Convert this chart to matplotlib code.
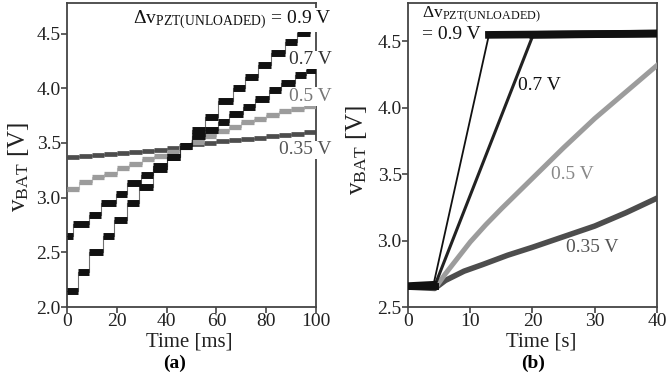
import matplotlib
matplotlib.use("Agg")
import numpy as np
import matplotlib.pyplot as plt

plt.rcParams['font.family'] = ['Liberation Serif', 'DejaVu Serif']
plt.rcParams['mathtext.fontset'] = 'stix'

# ---- panel (a): staircase charging, time in ms ----
t09_a = [0, 4.5, 9, 14.3, 18.8, 24.3, 29, 34.5, 40, 45.5, 50.3, 55.5, 60.8,
         66.5, 71.5, 76.8, 82, 87.5, 92.5, 97.5]
v09_a = [2.15, 2.32, 2.50, 2.65, 2.80, 2.95, 3.10, 3.26, 3.37, 3.47, 3.62, 3.74,
         3.88, 4.00, 4.10, 4.21, 4.32, 4.42, 4.51, 4.56]

t07_a = [0, 2.5, 9, 13.8, 19.8, 24, 29.6, 34.5, 40, 45.5, 50.3, 55.5, 60.5,
         65, 70.5, 75.5, 81, 86, 91.5, 96]
v07_a = [2.65, 2.76, 2.845, 2.95, 3.03, 3.13, 3.21, 3.29, 3.37, 3.47, 3.56, 3.62,
         3.69, 3.765, 3.83, 3.90, 3.98, 4.05, 4.12, 4.17]

t05_a = [0, 5, 10, 15, 20, 25, 30, 35, 40, 45, 50, 55, 60, 65, 70, 75, 80, 85, 90, 95]
v05_a = [3.08, 3.14, 3.19, 3.22, 3.27, 3.31, 3.35, 3.38, 3.42, 3.46, 3.51, 3.56,
         3.61, 3.65, 3.69, 3.72, 3.76, 3.79, 3.81, 3.84]

t035_a = [0, 5, 10, 15, 20, 25, 30, 35, 40, 45, 50, 55, 60, 65, 70, 75, 80, 85, 90, 95]
v035_a = [3.37, 3.38, 3.39, 3.40, 3.41, 3.42, 3.43, 3.44, 3.45, 3.47, 3.49, 3.50,
          3.52, 3.53, 3.54, 3.55, 3.56, 3.57, 3.58, 3.60]

# ---- panel (b): long charging, time in s ----
t09_b = [0, 4.1, 13.0, 40]
v09_b = [2.66, 2.67, 4.55, 4.56]
t07_b = [0, 4.3, 20.1, 40]
v07_b = [2.66, 2.66, 4.55, 4.56]
t05_b = [0, 4.5, 6, 8, 10, 12.5, 15, 20, 25, 30, 35, 40]
v05_b = [2.65, 2.65, 2.75, 2.87, 2.99, 3.12, 3.24, 3.47, 3.70, 3.92, 4.12, 4.32]
t035_b = [0, 4.3, 6, 9, 12, 16, 20, 25, 30, 35, 40]
v035_b = [2.65, 2.64, 2.70, 2.77, 2.82, 2.89, 2.95, 3.03, 3.11, 3.21, 3.32]

BLACK = '#111111'
GRAY = '#9c9c9c'
DGRAY = '#4d4d4d'
SPINE = '#444444'

fig = plt.figure(figsize=(6.67, 3.75), dpi=100)
axa = fig.add_axes([0.1004, 0.1813, 0.3734, 0.8107])
axb = fig.add_axes([0.6117, 0.1813, 0.3733, 0.8107])


def stairs(ax, t, v, color, lw, z):
    ends = t[1:] + [100]
    ax.step(t + [100], v + [v[-1]], where='post', color=color, lw=0.8, alpha=0.6, zorder=z)
    ax.hlines(v, t, ends, colors=color, lw=lw, zorder=z + 0.1)


stairs(axa, t035_a, v035_a, DGRAY, 3.4, 2)
stairs(axa, t05_a, v05_a, GRAY, 3.8, 3)
stairs(axa, t07_a, v07_a, BLACK, 5, 4)
stairs(axa, t09_a, v09_a, BLACK, 5, 5)

axb.plot(t035_b, v035_b, color=DGRAY, lw=4, zorder=2)
axb.plot(t05_b, v05_b, color=GRAY, lw=3.6, zorder=3)
axb.plot(t07_b[:2], v07_b[:2], color=BLACK, lw=5, zorder=4)
axb.plot(t07_b[1:3], v07_b[1:3], color='#222222', lw=2.2, zorder=4)
axb.plot(t07_b[2:], v07_b[2:], color=BLACK, lw=5.5, zorder=4)
axb.plot(t09_b[:2], v09_b[:2], color=BLACK, lw=5, zorder=5)
axb.plot(t09_b[1:3], v09_b[1:3], color=BLACK, lw=1.3, zorder=5)
axb.plot(t09_b[2:], v09_b[2:], color=BLACK, lw=5.5, zorder=5)

for ax in (axa, axb):
    for s in ax.spines.values():
        s.set_color(SPINE)
        s.set_linewidth(1.3)
    ax.tick_params(direction='out', length=4, width=1.2, color=SPINE,
                   labelsize=14, labelcolor='#222222', pad=0.5)

axa.set_xlim(0, 100)
axa.set_ylim(2.0, 4.78)
axa.set_xticks([0, 20, 40, 60, 80, 100])
axa.set_yticks([2.0, 2.5, 3.0, 3.5, 4.0, 4.5])
axa.set_yticklabels(['2.0', '2.5', '3.0', '3.5', '4.0', '4.5'])

axb.set_xlim(0, 40)
axb.set_ylim(2.5, 4.79)
axb.set_xticks([0, 10, 20, 30, 40])
axb.set_yticks([2.5, 3.0, 3.5, 4.0, 4.5])
axb.set_yticklabels(['2.5', '3.0', '3.5', '4.0', '4.5'])

# labels of panel (a), sitting over the right spine
box = dict(facecolor='white', edgecolor='none', pad=0.5)
fig.text(0.497, 0.947, r'Δv$_{\mathregular{PZT(UNLOADED)}}$ = 0.9 V', ha='right',
         va='center', fontsize=14, color=BLACK, bbox=box)
fig.text(0.497, 0.84, '0.7 V', ha='right', va='center', fontsize=14, color='#333333', bbox=box)
fig.text(0.497, 0.742, '0.5 V', ha='right', va='center', fontsize=14, color='#777777', bbox=box)
fig.text(0.497, 0.60, '0.35 V', ha='right', va='center', fontsize=14, color='#555555', bbox=box)

# labels of panel (b)
axb.text(2.2, 4.70, r'Δv$_{\mathregular{PZT(UNLOADED)}}$', ha='left', va='center',
         fontsize=12.5, color=BLACK)
axb.text(2.2, 4.55, '= 0.9 V', ha='left', va='center', fontsize=14, color=BLACK)
axb.text(17.6, 4.17, '0.7 V', ha='left', va='center', fontsize=14, color=BLACK)
axb.text(23.0, 3.50, '0.5 V', ha='left', va='center', fontsize=14, color='#888888')
axb.text(25.4, 2.95, '0.35 V', ha='left', va='center', fontsize=14, color='#555555')

ylab = r'v$_{\mathregular{BAT}}$ [V]'
fig.text(0.027, 0.555, ylab, rotation=90, ha='center', va='center', fontsize=18, color='#222222')
fig.text(0.535, 0.60, ylab, rotation=90, ha='center', va='center', fontsize=18, color='#222222')

fig.text(0.284, 0.088, 'Time [ms]', ha='center', va='center', fontsize=15, color='#222222')
fig.text(0.812, 0.088, 'Time [s]', ha='center', va='center', fontsize=15, color='#222222')
fig.text(0.261, 0.03, '(a)', ha='center', va='center', fontsize=14, fontweight='bold')
fig.text(0.799, 0.03, '(b)', ha='center', va='center', fontsize=14, fontweight='bold')

fig.savefig('out.png', dpi=100)
